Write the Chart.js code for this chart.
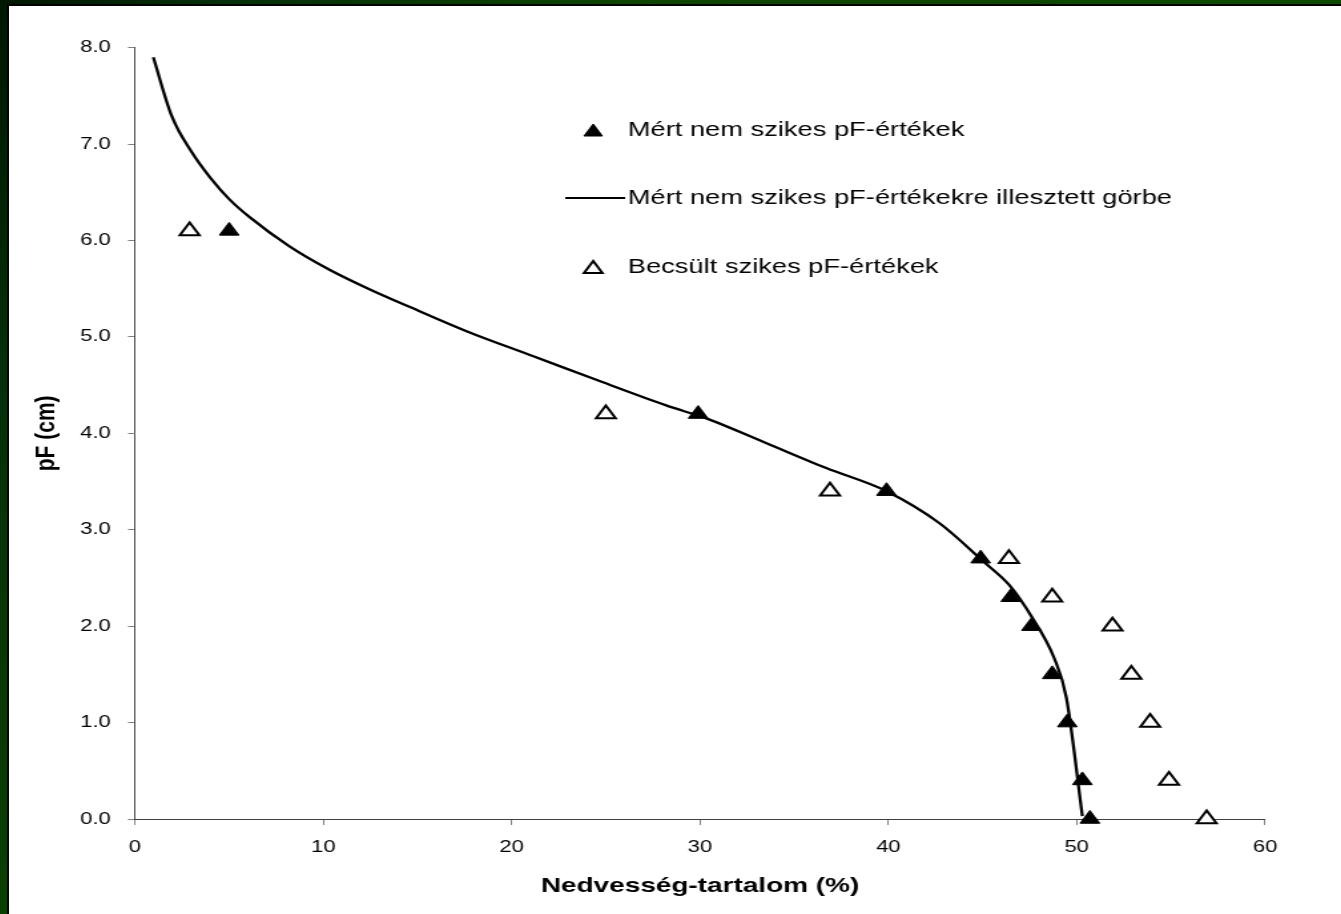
<!DOCTYPE html>
<html>
<head>
<meta charset="utf-8">
<script src="https://cdn.jsdelivr.net/npm/chart.js@4/dist/chart.umd.min.js"></script>
<style>
  html, body { margin: 0; padding: 0; }
  body {
    width: 1341px; height: 914px; overflow: hidden; position: relative;
    background: linear-gradient(120deg, #001600 0%, #06300a 12%, #0d4600 35%, #0f4d00 100%);
  }
  #frame {
    position: absolute; left: 7px; top: 4px; width: 1334px; height: 910px;
    border-left: 2px solid #000; border-top: 2px solid #000; background: #fff;
  }
  #wrap {
    position: absolute; left: 0; top: 0; width: 1001px; height: 908px;
    transform: scaleX(1.3307); transform-origin: 0 0;
  }
</style>
</head>
<body>
<div id="frame">
  <div id="wrap"><canvas id="myChart" width="1001" height="908" style="width:1001px;height:908px"></canvas></div>
</div>
<script>
// Mért nem szikes pF-értékek (teli háromszög)
const measuredX = [5.0, 29.9, 39.9, 44.9, 46.5, 47.6, 48.7, 49.5, 50.3, 50.7];
const measuredY = [6.1, 4.2, 3.4, 2.7, 2.3, 2.0, 1.5, 1.0, 0.4, 0.0];

// Becsült szikes pF-értékek (üres háromszög)
const estimatedX = [2.9, 25.0, 36.9, 46.4, 48.7, 51.9, 52.9, 53.9, 54.9, 56.9];
const estimatedY = [6.1, 4.2, 3.4, 2.7, 2.3, 2.0, 1.5, 1.0, 0.4, 0.0];

// Illesztett görbe pontjai
const curveX = [0.97, 1.95, 3.0, 4.0, 5.0, 6.1, 8.2, 10.3, 12.5, 14.6, 17.6, 21.15, 24.7, 28.2, 30.4, 33.5, 36.7, 39.9, 42.7, 45.05, 46.4, 47.6, 48.8, 49.45, 50.3];
const curveY = [7.90, 7.29, 6.92, 6.65, 6.43, 6.24, 5.94, 5.70, 5.49, 5.31, 5.06, 4.80, 4.54, 4.29, 4.15, 3.90, 3.64, 3.40, 3.07, 2.67, 2.43, 2.10, 1.67, 1.26, 0.03];

const xTicks = [0, 10, 20, 30, 40, 50, 60];
const yTicks = [0, 1, 2, 3, 4, 5, 6, 7, 8];

const legendLabels = [
  'Mért nem szikes pF-értékek',
  'Mért nem szikes pF-értékekre illesztett görbe',
  'Becsült szikes pF-értékek'
];

const toPoints = (xs, ys) => xs.map((x, i) => ({x: x, y: ys[i]}));

const font = "'Liberation Sans', Arial, sans-serif";

// háromszög rajzolása a jelmagyarázathoz
function triangle(ctx, x, y, r, fill) {
  ctx.beginPath();
  ctx.moveTo(x, y - r);
  ctx.lineTo(x + Math.sin(2 * Math.PI / 3) * r, y + r / 2);
  ctx.lineTo(x - Math.sin(2 * Math.PI / 3) * r, y + r / 2);
  ctx.closePath();
  ctx.fillStyle = fill;
  ctx.fill();
  ctx.lineWidth = fill === '#000' ? 1 : 2;
  ctx.strokeStyle = '#000';
  ctx.stroke();
}

const legendPlugin = {
  id: 'sajatLegend',
  afterDraw(chart) {
    const ctx = chart.ctx;
    const textX = 465;
    const rows = [124, 192, 261];
    ctx.save();
    ctx.font = '20.5px ' + font;
    ctx.textBaseline = 'middle';
    ctx.textAlign = 'left';
    triangle(ctx, 439, rows[0] + 2, 8, '#000');
    ctx.beginPath();
    ctx.moveTo(418, rows[1]);
    ctx.lineTo(463, rows[1]);
    ctx.lineWidth = 2;
    ctx.strokeStyle = '#000';
    ctx.stroke();
    triangle(ctx, 439, rows[2] + 2, 8, '#fff');
    ctx.fillStyle = '#000';
    legendLabels.forEach((t, i) => ctx.fillText(t, textX, rows[i]));
    ctx.restore();
  }
};

const ctx = document.getElementById('myChart').getContext('2d');
const myChart = new Chart(ctx, {
  type: 'scatter',
  data: {
    datasets: [
      {
        label: legendLabels[0],
        data: toPoints(measuredX, measuredY),
        pointStyle: 'triangle',
        pointRadius: 8.5,
        backgroundColor: '#000',
        borderColor: '#000',
        borderWidth: 1,
        clip: false
      },
      {
        type: 'line',
        label: legendLabels[1],
        data: toPoints(curveX, curveY),
        showLine: true,
        pointRadius: 0,
        borderColor: '#000',
        borderWidth: 2.3,
        cubicInterpolationMode: 'monotone',
        fill: false
      },
      {
        label: legendLabels[2],
        data: toPoints(estimatedX, estimatedY),
        pointStyle: 'triangle',
        pointRadius: 8.5,
        backgroundColor: '#fff',
        borderColor: '#000',
        borderWidth: 2,
        clip: false
      }
    ]
  },
  options: {
    responsive: false,
    animation: false,
    layout: { padding: { left: 0, top: 41.7, right: 57.1, bottom: 0 } },
    plugins: { legend: { display: false }, tooltip: { enabled: false } },
    scales: {
      x: {
        type: 'linear',
        min: 0, max: 60,
        afterFit: (s) => { s.height = 95; },
        afterBuildTicks: (s) => { s.ticks = xTicks.map(v => ({value: v})); },
        ticks: { color: '#000', padding: 13, font: { family: font, size: 16.5 } },
        grid: { drawOnChartArea: false, color: '#808080', tickLength: 6 },
        border: { color: '#404040', width: 1 },
        title: {
          display: true, text: 'Nedvesség-tartalom (%)', color: '#000',
          padding: { top: 0, bottom: 15 },
          font: { family: font, size: 21, weight: 'bold' }
        }
      },
      y: {
        type: 'linear',
        min: 0, max: 8,
        afterFit: (s) => { s.width = 94.7; },
        afterBuildTicks: (s) => { s.ticks = yTicks.map(v => ({value: v})); },
        ticks: {
          color: '#000', padding: 13, font: { family: font, size: 16.5 },
          callback: (v) => Number(v).toFixed(1)
        },
        grid: { drawOnChartArea: false, color: '#808080', tickLength: 5.3 },
        border: { color: '#404040', width: 1 },
        title: {
          display: true, text: 'pF (cm)', color: '#000',
          padding: { top: 16, bottom: 0 },
          font: { family: font, size: 21, weight: 'bold' }
        }
      }
    }
  },
  plugins: [legendPlugin]
});
</script>
</body>
</html>
